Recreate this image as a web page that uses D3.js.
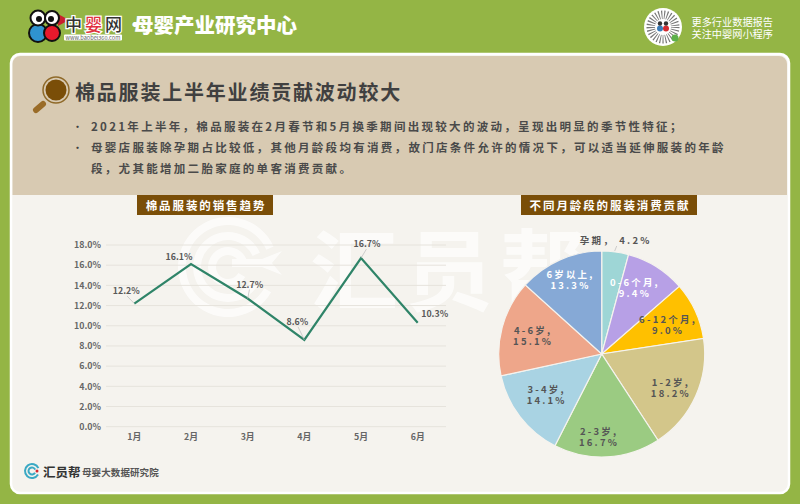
<!DOCTYPE html>
<html>
<head>
<meta charset="utf-8">
<script src="https://cdn.jsdelivr.net/npm/d3@7"></script>
<style>
html,body{margin:0;padding:0;background:#94b545;}
svg{display:block;}
text{font-family:"Noto Sans CJK SC","Noto Sans",sans-serif;}
</style>
</head>
<body>
<svg id="chart" width="800" height="504"></svg>
<script>
//chart values
var months = ["1月","2月","3月","4月","5月","6月"];
var sales = [12.2,16.1,12.7,8.6,16.7,10.3];
var sales_labels = ["12.2%","16.1%","12.7%","8.6%","16.7%","10.3%"];
var y_ticks = [0,2,4,6,8,10,12,14,16,18];
var ages = ["孕期","0-6个月","6-12个月","1-2岁","2-3岁","3-4岁","4-6岁","6岁以上"];
var shares = [4.2,9.4,9.0,18.2,16.7,14.1,15.1,13.3];
var pie_colors = ["#9ed6d6","#b7a0e6","#ffc000","#d3c68a","#9bcb82","#a9d3e3","#eea68a","#86a9d6"];
var pie_label_colors = ["#555","#fff","#555","#555","#555","#555","#555","#fff"];
var bullets = [
    ["2021年上半年，棉品服装在2月春节和5月换季期间出现较大的波动，呈现出明显的季节性特征；"],
    ["母婴店服装除孕期占比较低，其他月龄段均有消费，故门店条件允许的情况下，可以适当延伸服装的年龄","段，尤其能增加二胎家庭的单客消费贡献。"]
];

var svg = d3.select("#chart");

//page background
svg.append("rect").attr("width",800).attr("height",504).attr("fill","#94b545");
svg.append("rect").attr("x",11).attr("y",54).attr("width",778).attr("height",439).attr("rx",9)
    .attr("fill","#f5f3ee").attr("stroke","#fff").attr("stroke-width",2.5);
svg.append("path").attr("d","M12.5 195V64a8 8 0 0 1 8-8H779a8 8 0 0 1 8 8V195Z").attr("fill","#d8cab2");

function addText(x,y,str,size,fill,opts){
    opts = opts || {};
    return svg.append("text").attr("x",x).attr("y",y).attr("font-size",size).attr("fill",fill)
        .attr("font-weight",opts.weight || 400).attr("text-anchor",opts.anchor || "start")
        .attr("letter-spacing",opts.spacing || 0).text(str);
}

//ring arcs for the logo marks, open on the right side
function rings(parent,cx,cy,radii,width,fill){
    var ring = d3.arc();
    radii.forEach(function(r){
        parent.append("path")
            .attr("transform","translate("+cx+","+cy+")")
            .attr("fill",fill)
            .attr("d",ring({innerRadius:r-width,outerRadius:r,startAngle:2.1,endAngle:2*Math.PI+1.15}));
    });
}

//logo
var logo = svg.append("g");
logo.append("path").attr("d","M58 14L69 20L58 26Z").attr("fill","#c8202c");
logo.append("circle").attr("cx",38).attr("cy",33).attr("r",9).attr("fill","#2f93cf").attr("stroke","#111").attr("stroke-width",2);
logo.append("circle").attr("cx",52).attr("cy",33).attr("r",8).attr("fill","#e8192c").attr("stroke","#111").attr("stroke-width",2);
logo.append("circle").attr("cx",38).attr("cy",18).attr("r",7.5).attr("fill","#fff").attr("stroke","#111").attr("stroke-width",2);
logo.append("circle").attr("cx",52).attr("cy",18).attr("r",7).attr("fill","#fff").attr("stroke","#111").attr("stroke-width",2);
logo.append("circle").attr("cx",39).attr("cy",19).attr("r",3).attr("fill","#111");
logo.append("circle").attr("cx",51).attr("cy",19).attr("r",3).attr("fill","#111");
["中","婴","网"].forEach(function(c,i){
    addText(65+i*20,31,c,17,i == 1 ? "#e0313e" : "#333",{weight:500})
        .attr("stroke","#fff").attr("stroke-width",2.5).attr("paint-order","stroke");
});
logo.append("rect").attr("x",64).attr("y",34.5).attr("width",58).attr("height",6).attr("rx",1).attr("fill","#fff");
addText(65.5,39.5,"www.baobei360.com",5.6,"#666");
addText(125,32,"·",20,"#fff",{weight:700});
addText(133,32.5,"母婴产业研究中心",20.5,"#fff",{weight:900});

//qr badge
svg.append("circle").attr("cx",663).attr("cy",27).attr("r",19).attr("fill","#fff");
svg.append("circle").attr("cx",663).attr("cy",27).attr("r",12).attr("fill","none").attr("stroke","#777").attr("stroke-width",9).attr("stroke-dasharray","1 1.6");
svg.append("circle").attr("cx",663).attr("cy",27).attr("r",8).attr("fill","#fff");
svg.append("circle").attr("cx",660).attr("cy",28.5).attr("r",3).attr("fill","#3a7cb8");
svg.append("circle").attr("cx",666).attr("cy",28.5).attr("r",3).attr("fill","#d42a30");
svg.append("circle").attr("cx",660).attr("cy",23.5).attr("r",2.2).attr("fill","#333");
svg.append("circle").attr("cx",666).attr("cy",23.5).attr("r",2.2).attr("fill","#333");
svg.append("circle").attr("cx",675).attr("cy",38).attr("r",3.5).attr("fill","#5cb04a");
addText(691.5,26,"更多行业数据报告",10.2,"#fff");
addText(691.5,37.5,"关注中婴网小程序",10.2,"#fff");

//title with magnifier
svg.append("circle").attr("cx",56).attr("cy",90).attr("r",10.5).attr("fill","#7a4e08");
svg.append("circle").attr("cx",56).attr("cy",90).attr("r",13).attr("fill","none").attr("stroke","#8f6a2a").attr("stroke-width",1.5);
svg.append("line").attr("x1",36).attr("y1",110).attr("x2",43).attr("y2",104).attr("stroke","#9a6c28").attr("stroke-width",6).attr("stroke-linecap","round");
addText(75,99.5,"棉品服装上半年业绩贡献波动较大",20,"#404040",{weight:700,spacing:1.8});

//bullets
var line_y = 131;
bullets.forEach(function(lines){
    addText(72,line_y,"•",11,"#404040");
    lines.forEach(function(l){
        addText(91,line_y,l,11.5,"#4a4a4a",{weight:700,spacing:2.3});
        line_y += 21;
    });
});

//chart titles
function chartTitle(x,y,w,h,str){
    svg.append("rect").attr("x",x).attr("y",y).attr("width",w).attr("height",h).attr("fill","#7a4e08");
    addText(x+w/2+1,y+h-5.5,str,11.5,"#fff",{weight:700,anchor:"middle",spacing:1.9});
}
chartTitle(137,195,136,20,"棉品服装的销售趋势");
chartTitle(521,195,176,20,"不同月龄段的服装消费贡献");

//watermark
var mark = svg.append("g").attr("opacity",0.7);
rings(mark,228,267,[50,35,20],8,"#fff");
mark.append("path").attr("d","M232 259H262L282 251L272 263L282 275L262 267H232Z").attr("fill","#fff");
mark.append("text").attr("x",310).attr("y",303).attr("font-size",88).attr("font-weight",700).attr("fill","#fff").attr("letter-spacing",7).text("汇员帮");

//line chart
var x = d3.scalePoint().domain(months).range([134.3,417.7]);
var y = d3.scaleLinear().domain([0,18]).range([426.7,245]);

svg.append("g").selectAll("line").data(y_ticks).join("line")
    .attr("x1",106).attr("x2",446)
    .attr("y1",function(d){return y(d);}).attr("y2",function(d){return y(d);})
    .attr("stroke","#e6e3dc").attr("stroke-width",1);

svg.append("g").selectAll("text").data(y_ticks).join("text")
    .attr("x",101).attr("y",function(d){return y(d)+3.3;})
    .attr("text-anchor","end").attr("font-size",8.8).attr("font-weight",700).attr("fill","#666")
    .text(function(d){return d.toFixed(1)+"%";});

svg.append("g").selectAll("text").data(months).join("text")
    .attr("x",function(d){return x(d);}).attr("y",440)
    .attr("text-anchor","middle").attr("font-size",8.8).attr("font-weight",700).attr("fill","#666")
    .text(function(d){return d;});

var line = d3.line().x(function(d,i){return x(months[i]);}).y(function(d){return y(d);});
svg.append("path").datum(sales).attr("d",line).attr("fill","none").attr("stroke","#2f8468").attr("stroke-width",2.2);

//label offsets from each point, leaders only where the label sits away from it
var label_dx = [-8,-12,2,-7,6,17];
var label_dy = [-9.5,-3.7,-11,-15,-11,-6];
var leaders = [0,2,3,4];
svg.append("g").selectAll("line").data(leaders).join("line")
    .attr("x1",function(i){return x(months[i])+label_dx[i]*0.9;})
    .attr("y1",function(i){return y(sales[i])+label_dy[i]+2;})
    .attr("x2",function(i){return x(months[i]);})
    .attr("y2",function(i){return y(sales[i]);})
    .attr("stroke","#bbb").attr("stroke-width",0.7);

svg.append("g").selectAll("text").data(sales).join("text")
    .attr("x",function(d,i){return x(months[i])+label_dx[i];})
    .attr("y",function(d,i){return y(d)+label_dy[i];})
    .attr("text-anchor","middle").attr("font-size",8.8).attr("font-weight",700).attr("fill","#595959")
    .text(function(d,i){return sales_labels[i];});

//pie chart
var pie = d3.pie().sort(null).value(function(d){return d;});
var arc = d3.arc().innerRadius(0).outerRadius(103);
var labelArc = d3.arc().innerRadius(72).outerRadius(72);
var pie_g = svg.append("g").attr("transform","translate(601.7,354)");
var arcs = pie(shares);

pie_g.selectAll("path").data(arcs).join("path")
    .attr("d",arc)
    .attr("fill",function(d,i){return pie_colors[i];})
    .attr("stroke","#f5f3ee").attr("stroke-width",1.2);

pie_g.append("line").attr("x1",15).attr("y1",-108).attr("x2",13).attr("y2",-103).attr("stroke","#bbb").attr("stroke-width",0.7);

var pie_dx = [0,-5,1,3.5,-6.5,2,1,-2];
var pie_dy = [0,-5,1,5,11,-3,1,-8];
var pie_labels = pie_g.selectAll("text").data(arcs).join("text")
    .attr("text-anchor","middle").attr("font-size",9.5).attr("font-weight",700).attr("letter-spacing",2.2)
    .attr("fill",function(d,i){return pie_label_colors[i];});

pie_labels.each(function(d,i){
    var c = labelArc.centroid(d);
    var label = d3.select(this);
    if(i == 0){
        //first slice sits outside the pie on a single row
        label.attr("x",14).attr("y",-110.5).text(ages[i]+"， "+shares[i].toFixed(1)+"%");
        return;
    }
    label.append("tspan").attr("x",c[0]+pie_dx[i]).attr("y",c[1]+pie_dy[i]-2).text(ages[i]+",");
    label.append("tspan").attr("x",c[0]+pie_dx[i]).attr("y",c[1]+pie_dy[i]+9).text(shares[i].toFixed(1)+"%");
});

//footer
var foot = svg.append("g");
rings(foot,32,471,[8,4.5],2,"#3ba9c4");
foot.append("circle").attr("cx",37).attr("cy",471).attr("r",1.5).attr("fill","#d42a30");
addText(43,476.5,"汇员帮",12.5,"#333",{weight:700});
addText(82,475.5,"母婴大数据研究院",9.5,"#555",{weight:700,spacing:0.1});
</script>
</body>
</html>
